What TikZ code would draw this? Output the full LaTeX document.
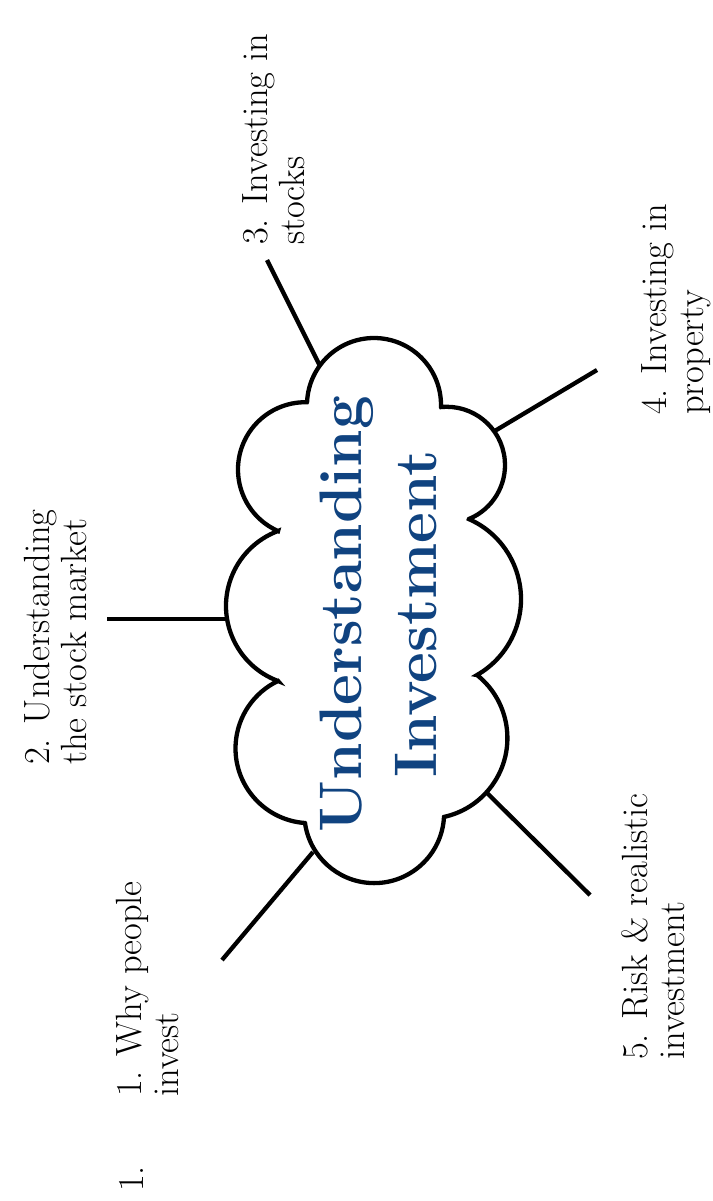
\documentclass[tikz,border=0pt]{standalone}
\usepackage{fontspec}
\definecolor{titleblue}{RGB}{16,67,128}
\begin{document}
\begin{tikzpicture}[x=1pt,y=-1pt,
  link/.style={line width=4.3pt},
  cloudline/.style={line width=4.3pt, fill=white, line join=miter},
  lbl/.style={rotate=90, align=left, anchor=north west, inner sep=0pt, font=\fontsize{36.5}{37}\selectfont},
  ttl/.style={rotate=90, align=center, inner sep=0pt, text=titleblue, font=\fontsize{60}{75}\selectfont\bfseries}]
\useasboundingbox[fill=white] (0,0) rectangle (712,1201);

% connector ends
\coordinate (e1) at (222,960);  \coordinate (c1) at (313,852);
\coordinate (e2) at (107,619);  \coordinate (c2) at (234,619);
\coordinate (e3) at (267,260);  \coordinate (c3) at (320,366);
\coordinate (e4) at (597,370);  \coordinate (c4) at (488,435);
\coordinate (e5) at (590,895);  \coordinate (c5) at (482,788);

\draw[link] (e1) -- (c1);
\draw[link] (e2) -- (c2);
\draw[link] (e3) -- (c3);
\draw[link] (e4) -- (c4);
\draw[link] (e5) -- (c5);

% cloud
\draw[cloudline]
  ([shift={(374,405)}]182.6:67) arc[start angle=-182.6, end angle=-361.7, radius=67pt]
  -- ([shift={(446.7,465.1)}]264.4:58.3) arc[start angle=-264.4, end angle=-427.5, radius=58.3pt]
  -- ([shift={(433.5,599.1)}]-66.1:87.5) arc[start angle=66.1, end angle=-60.2, radius=87.5pt]
  -- ([shift={(426.7,738.1)}]-51.4:80.7) arc[start angle=51.4, end angle=-77.6, radius=80.7pt]
  -- ([shift={(374.2,813.2)}]3.1:69.9) arc[start angle=-3.1, end angle=-171.9, radius=69.9pt]
  -- ([shift={(310.3,748.4)}]94.1:74.8) arc[start angle=-94.1, end angle=-244.4, radius=74.8pt]
  -- ([shift={(306.1,606)}]110.5:80.1) arc[start angle=-110.5, end angle=-249.5, radius=80.1pt]
  -- ([shift={(305.3,469.5)}]113.9:67.3) arc[start angle=-113.9, end angle=-271.4, radius=67.3pt]
  -- cycle;

\node[ttl] (title) at (378.7,614) {Understanding\\Investment};

\node[lbl] (l1) at (116,1097) {1. Why people\\invest};
\node[lbl] (l1b) at (119,1192) {1.};
\node[lbl] (l2) at (24,765) {2. Understanding\\the stock market};
\node[lbl] (l3) at (242,245) {3. Investing in\\stocks};
\node[lbl] (l4) at (641,415) {4. Investing in\\property};
\node[lbl] (l5) at (621,1060) {5. Risk \& realistic\\investment};
\end{tikzpicture}
\end{document}
